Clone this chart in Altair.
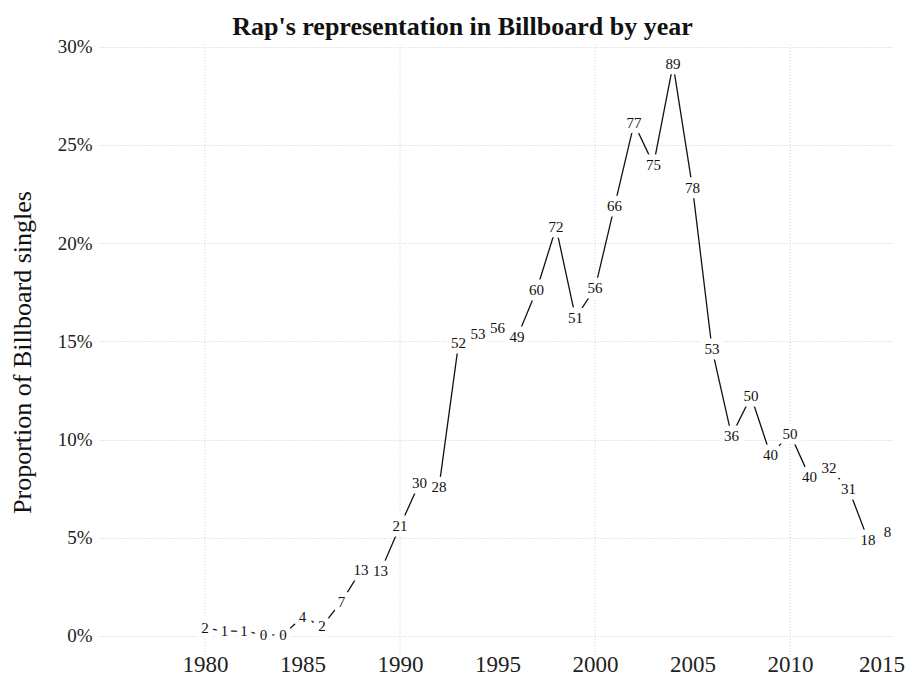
import altair as alt
import pandas as pd

years = list(range(1980, 2016))
counts = [2, 1, 1, 0, 0, 4, 2, 7, 13, 13, 21, 30, 28, 52, 53, 56, 49, 60, 72, 51,
          56, 66, 77, 75, 89, 78, 53, 36, 50, 40, 50, 40, 32, 31, 18, 8]
share_pct = [0.40, 0.25, 0.25, 0.05, 0.05, 0.97, 0.50, 1.75, 3.35, 3.30,
             5.6, 7.8, 7.6, 14.9, 15.4, 15.7, 15.2, 17.6, 20.8, 16.2,
             17.7, 21.9, 26.1, 24.0, 29.1, 22.8, 14.6, 10.2, 12.2, 9.2,
             10.3, 8.1, 8.55, 7.5, 4.9, 5.3]
x_ticks = [1980, 1985, 1990, 1995, 2000, 2005, 2010, 2015]
x_grid = [1980, 1990, 2000, 2010]
y_ticks = [0, 0.05, 0.10, 0.15, 0.20, 0.25, 0.30]

df = pd.DataFrame({"year": years, "count": counts,
                   "share": [v / 100 for v in share_pct]})
grid_df = pd.DataFrame({"year": x_grid})

FONT = "Liberation Serif"
GRID = "#cfcfcf"

x_scale = alt.Scale(domain=[1974.56, 2015.33], nice=False, zero=False)
y_scale = alt.Scale(domain=[-0.0097, 0.3009], nice=False, zero=False)

x_enc = alt.X("year:Q", scale=x_scale, title=None,
              axis=alt.Axis(values=x_ticks, format="d", grid=False, ticks=False,
                            domain=False, labelPadding=16, labelBaseline="alphabetic",
                            labelFontSize=23, labelFont=FONT, labelColor="#222",
                            labelFlush=10, labelFlushOffset=17))
y_enc = alt.Y("share:Q", scale=y_scale, title="Proportion of Billboard singles",
              axis=alt.Axis(values=y_ticks, format=".0%", grid=True, gridColor=GRID,
                            gridDash=[1, 2], gridWidth=1, ticks=False, domain=False,
                            labelPadding=7, labelFontSize=19, labelFont=FONT,
                            labelColor="#222", titleFont=FONT, titleFontSize=26,
                            titleFontWeight="normal", titleColor="#111",
                            titleX=-77, titleY=307, titleAngle=-90,
                            titleBaseline="middle", titleAlign="center"))

vgrid = alt.Chart(grid_df).mark_rule(color=GRID, strokeDash=[1, 2], strokeWidth=1).encode(
    x=alt.X("year:Q", scale=x_scale)
)

line = alt.Chart(df).mark_line(color="#111", strokeWidth=1.3).encode(x=x_enc, y=y_enc)

halo = alt.Chart(df).mark_text(font=FONT, fontSize=15, color="white", stroke="white",
                               strokeWidth=11, strokeJoin="round",
                               baseline="middle", align="center").encode(
    x=alt.X("year:Q", scale=x_scale), y=alt.Y("share:Q", scale=y_scale),
    text="count:Q")

labels = alt.Chart(df).mark_text(font=FONT, fontSize=15, color="#111",
                                 baseline="middle", align="center").encode(
    x=alt.X("year:Q", scale=x_scale), y=alt.Y("share:Q", scale=y_scale),
    text="count:Q")

chart = alt.layer(vgrid, line, halo, labels).properties(
    width=795, height=610,
    title=alt.TitleParams("Rap's representation in Billboard by year", font=FONT,
                          fontSize=26, fontWeight="bold", color="#111",
                          anchor="middle", dx=-34, dy=6),
    autosize=alt.AutoSizeParams(type="none"),
    padding={"left": 91, "top": 37, "right": 11, "bottom": 22},
).configure_view(stroke=None)

chart.save("out.html", embed_options={"renderer": "svg", "actions": False})
